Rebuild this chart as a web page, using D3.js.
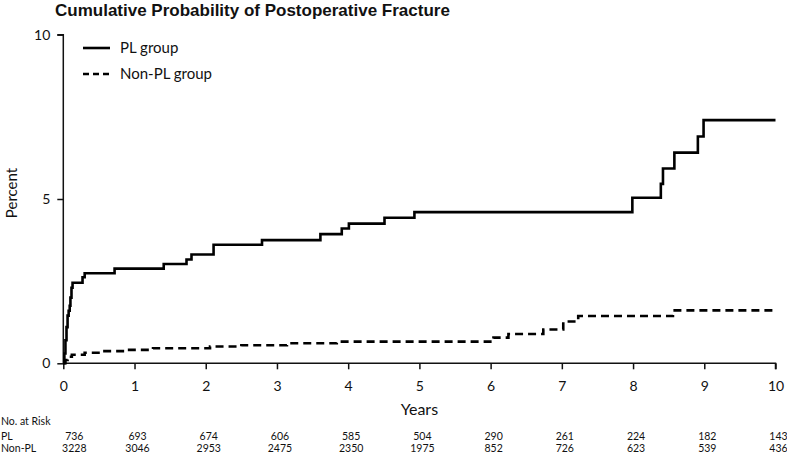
<!DOCTYPE html>
<html><head><meta charset="utf-8">
<script src="https://cdn.jsdelivr.net/npm/d3@7"></script>
<style>body{margin:0;background:#fff}svg{display:block}</style>
</head><body><svg id="c" width="787" height="456"></svg>
<script>
const title = "Cumulative Probability of Postoperative Fracture";
const seriesNames = ["PL group", "Non-PL group"];
const plTimes = [0, 0.015, 0.03, 0.045, 0.06, 0.075, 0.09, 0.1, 0.115, 0.13, 0.27, 0.30, 0.72, 1.41, 1.73, 1.80, 2.11, 2.79, 3.61, 3.91, 4.01, 4.51, 4.93, 7.99, 8.39, 8.42, 8.58, 8.91, 8.99, 10];
const plValues = [0, 0.3, 0.7, 1.1, 1.45, 1.6, 1.75, 2.0, 2.3, 2.45, 2.62, 2.74, 2.88, 3.02, 3.16, 3.31, 3.61, 3.75, 3.93, 4.10, 4.25, 4.43, 4.60, 5.04, 5.46, 5.93, 6.41, 6.90, 7.40, 7.40];
const nonTimes = [0, 0.03, 0.06, 0.12, 0.3, 0.55, 0.9, 1.26, 2.06, 2.5, 3.14, 3.84, 6.04, 6.25, 6.74, 7.02, 7.23, 8.56, 10];
const nonValues = [0, 0.1, 0.2, 0.26, 0.32, 0.37, 0.41, 0.46, 0.51, 0.55, 0.61, 0.66, 0.78, 0.89, 1.03, 1.27, 1.44, 1.61, 1.61];
const xTicks = [0, 1, 2, 3, 4, 5, 6, 7, 8, 9, 10];
const yTicks = [0, 5, 10];
const riskTimes = [0, 1, 2, 3, 4, 5, 6, 7, 8, 9, 10];
const riskPL = [736, 693, 674, 606, 585, 504, 290, 261, 224, 182, 143];
const riskNonPL = [3228, 3046, 2953, 2475, 2350, 1975, 852, 726, 623, 539, 436];

const svg = d3.select("#c");
const x = d3.scaleLinear().domain([0, 10]).range([63.3, 775.5]);
const y = d3.scaleLinear().domain([0, 10]).range([363.3, 34.7]);
const lab = "Lato, 'Open Sans', sans-serif";

svg.append("text").attr("x", 55).attr("y", 15.5).attr("font-family", "'Liberation Sans', Arial, sans-serif")
  .attr("font-weight", "bold").attr("font-size", 17).attr("fill", "#111").text(title);

const xa = svg.append("g").attr("transform", `translate(0,${y(0)})`)
  .call(d3.axisBottom(x).tickValues(xTicks).tickSize(6).tickPadding(12).tickFormat(d3.format("d")));
const ya = svg.append("g").attr("transform", `translate(${x(0)},0)`)
  .call(d3.axisLeft(y).tickValues(yTicks).tickSize(6).tickPadding(7).tickFormat(d3.format("d")));
[xa, ya].forEach(a => {
  a.select(".domain").attr("stroke", "#111").attr("stroke-width", 1.5);
  a.selectAll(".tick line").attr("stroke", "#111").attr("stroke-width", 1.5);
  a.selectAll(".tick text").attr("font-family", lab).attr("font-size", 14).attr("fill", "#111");
});
ya.select(".domain").attr("d", `M-6,${y(10)}H0V${y(0)}`);
xa.select(".domain").attr("d", `M${x(0)},0H${x(10)}V6`);

svg.append("text").attr("transform", `translate(17,193) rotate(-90)`).attr("text-anchor", "middle")
  .attr("font-family", lab).attr("font-size", 15).attr("fill", "#111").text("Percent");
svg.append("text").attr("x", x(5)).attr("y", 415).attr("text-anchor", "middle")
  .attr("font-family", lab).attr("font-size", 16).attr("fill", "#111").text("Years");

const line = d3.line().x(d => x(d[0])).y(d => y(d[1])).curve(d3.curveStepAfter);
const pl = plTimes.map((t, i) => [t, plValues[i]]);
const np = nonTimes.map((t, i) => [t, nonValues[i]]);
svg.append("path").attr("d", line(pl)).attr("fill", "none").attr("stroke", "#000").attr("stroke-width", 2.6);
svg.append("path").attr("d", line(np)).attr("fill", "none").attr("stroke", "#000").attr("stroke-width", 2.6)
  .attr("stroke-dasharray", "8,5");

// legend
const lg = svg.append("g");
seriesNames.forEach((n, i) => {
  const yy = 48 + i * 26;
  lg.append("line").attr("x1", 83).attr("x2", 110).attr("y1", yy).attr("y2", yy)
    .attr("stroke", "#000").attr("stroke-width", 2.6).attr("stroke-dasharray", i ? "6,4" : null);
  lg.append("text").attr("x", 120).attr("y", yy + 5).attr("font-family", lab).attr("font-size", 15)
    .attr("fill", "#111").text(n);
});

// at-risk table
const tf = { "font-family": lab, "font-size": 10.5, "fill": "#111" };
function txt(xx, yy, s, anchor) {
  const t = svg.append("text").attr("x", xx).attr("y", yy).attr("text-anchor", anchor || "start").text(s);
  Object.entries(tf).forEach(([k, v]) => t.attr(k, v));
}
txt(1, 425, "No. at Risk");
txt(1, 440, "PL");
txt(1, 452, "Non-PL");
riskTimes.forEach((t, i) => {
  const xx = t === 0 ? x(0) + 11 : x(t) + 3;
  txt(xx, 440, riskPL[i], "middle");
  txt(xx, 452, riskNonPL[i], "middle");
});
</script></body></html>
